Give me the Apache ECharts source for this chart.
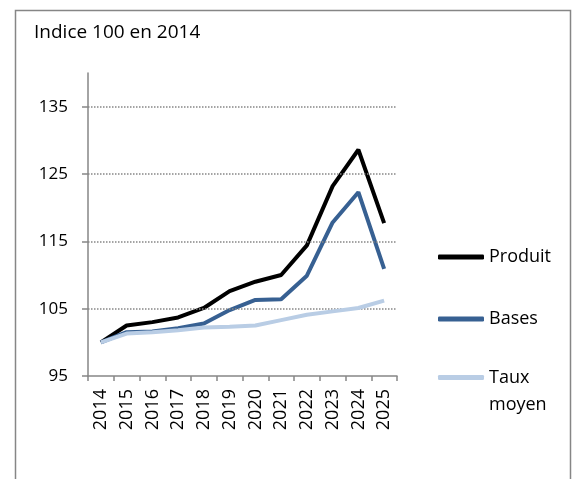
<!DOCTYPE html>
<html>
<head>
<meta charset="utf-8">
<script src="https://cdn.jsdelivr.net/npm/echarts@6/dist/echarts.min.js"></script>
<style>
  html, body { margin: 0; padding: 0; background: #fff; }
  #main { width: 572px; height: 479px; }
</style>
</head>
<body>
<div id="main"></div>
<script>
// années (axe des abscisses)
var annees = ['2014', '2015', '2016', '2017', '2018', '2019', '2020', '2021', '2022', '2023', '2024', '2025'];
// indices (base 100 en 2014)
var produit = [100, 102.5, 103.0, 103.7, 105.1, 107.6, 109.0, 110.0, 114.4, 123.2, 128.6, 117.7];
var bases = [100, 101.5, 101.6, 102.1, 102.8, 104.8, 106.3, 106.4, 109.9, 117.8, 122.3, 110.9];
var tauxMoyen = [100, 101.3, 101.5, 101.8, 102.2, 102.3, 102.5, 103.3, 104.1, 104.6, 105.1, 106.2];
// graduations de l'axe vertical
var graduations = [95, 105, 115, 125, 135];

var police = 'Open Sans';
var gris = '#868686';

var chart = echarts.init(document.getElementById('main'));

var styleLegende = { fontFamily: police, fontSize: 18, color: '#000' };

var option = {
    backgroundColor: '#fff',
    animation: false,
    textStyle: { fontFamily: police, color: '#000' },
    // cadre + titre
    graphic: [
        {
            type: 'rect',
            left: 13, top: 8,
            shape: { width: 555, height: 480 },
            style: { fill: 'none', stroke: gris, lineWidth: 1.5 },
            silent: true
        },
        {
            type: 'text',
            left: 34, top: 23,
            style: { text: 'Indice 100 en 2014', fontFamily: police, fontSize: 19, fill: '#000' }
        }
    ],
    legend: [
        {
            data: ['Produit'], left: 433, top: 243, icon: 'roundRect',
            itemWidth: 46, itemHeight: 5, textStyle: styleLegende
        },
        {
            data: ['Bases'], left: 433, top: 305, icon: 'roundRect',
            itemWidth: 46, itemHeight: 5, textStyle: styleLegende
        },
        {
            // ligne vide en tête pour centrer le trait sur « Taux »
            data: ['Taux moyen'], left: 433, top: 332, icon: 'roundRect',
            itemWidth: 46, itemHeight: 5,
            formatter: function (n) { return '\n' + n.replace(' ', '\n'); },
            textStyle: { fontFamily: police, fontSize: 18, color: '#000', lineHeight: 27 }
        }
    ],
    grid: { left: 88, right: 175, top: 73, bottom: 103 },
    xAxis: {
        type: 'category',
        data: annees,
        boundaryGap: true,
        axisLine: { lineStyle: { color: gris, width: 1.5 } },
        axisTick: { show: true, length: 5, lineStyle: { color: gris, width: 1.5 } },
        axisLabel: { rotate: 90, margin: 13, fontFamily: police, fontSize: 18, color: '#000' }
    },
    yAxis: {
        type: 'value',
        min: 95, max: 140, interval: 10,
        axisLine: { show: true, lineStyle: { color: gris, width: 1.5 } },
        axisTick: { show: true, length: 6, lineStyle: { color: gris, width: 1.5 } },
        splitLine: { show: false },
        axisLabel: {
            margin: 20, fontFamily: police, fontSize: 17, color: '#000',
            showMaxLabel: false,
            formatter: function (v) { return graduations.indexOf(v) >= 0 ? String(v) : ''; }
        }
    },
    series: [
        {
            name: 'Produit', type: 'line', data: produit,
            symbol: 'none', color: '#000',
            lineStyle: { width: 4, color: '#000' },
            // lignes de quadrillage pointillées
            markLine: {
                silent: true, symbol: 'none', label: { show: false },
                lineStyle: { type: 'dotted', color: gris, width: 1.5 },
                data: graduations.slice(1).map(function (v) { return { yAxis: v }; })
            },
            z: 3
        },
        {
            name: 'Bases', type: 'line', data: bases,
            symbol: 'none', color: '#376092',
            lineStyle: { width: 4, color: '#376092' },
            z: 4
        },
        {
            name: 'Taux moyen', type: 'line', data: tauxMoyen,
            symbol: 'none', color: '#b9cde5',
            lineStyle: { width: 4, color: '#b9cde5' },
            z: 5
        }
    ]
};

chart.setOption(option);
</script>
</body>
</html>
